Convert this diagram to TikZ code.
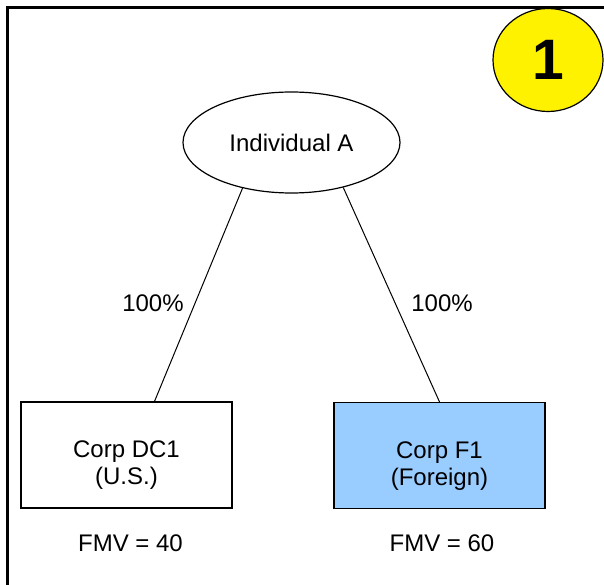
\documentclass[tikz,border=0pt]{standalone}
\usepackage{fontspec}
\setmainfont{Liberation Sans}
\usetikzlibrary{shapes.geometric}
\definecolor{corpblue}{HTML}{99CCFF}
\begin{document}
\begin{tikzpicture}[
    x=1pt, y=-1pt,
    font=\fontsize{24}{27}\selectfont,
    frame/.style={line width=3pt},
    owner/.style={draw, ellipse, line width=1.2pt, inner sep=0pt,
                  minimum width=217pt, minimum height=101pt},
    corp/.style={draw, line width=1.2pt, align=center, inner sep=0pt,
                 minimum width=211pt, minimum height=106pt,
                 execute at begin node={\rule{0pt}{64pt}}},
    corpforeign/.style={corp, fill=corpblue},
    link/.style={line width=1pt},
    badge/.style={draw, ellipse, fill=yellow, line width=1.2pt, inner sep=0pt,
                  minimum width=110pt, minimum height=103pt}]

  \useasboundingbox (0,0) rectangle (604,585);

  % ---- cornice ------------------------------------------------------------
  \draw[frame] (7.5,600) -- (7.5,8) -- (620,8);

  % ---- numero -------------------------------------------------------------
  \node[badge] (num) at (548,60) {\bfseries\fontsize{57}{57}\selectfont 1};

  % ---- proprietario e societa ---------------------------------------------
  \node[owner] (indA) at (291.5,142.5) {Individual A};
  \node[corp] (dc1) at (126.5,455) {Corp DC1\\(U.S.)};
  \node[corpforeign] (f1) at (439.5,455.5) {Corp F1\\(Foreign)};

  % ---- partecipazioni -----------------------------------------------------
  \draw[link] (indA.223) -- ([xshift=28pt]dc1.north);
  \draw[link] (indA.-41) -- (f1.north);
  \node (pctdc1) at (153,303) {100\%};
  \node (pctf1) at (442,303) {100\%};

  % ---- valori -------------------------------------------------------------
  \node (fmvdc1) at (130.5,543) {FMV = 40};
  \node (fmvf1) at (442,543) {FMV = 60};

\end{tikzpicture}
\end{document}
